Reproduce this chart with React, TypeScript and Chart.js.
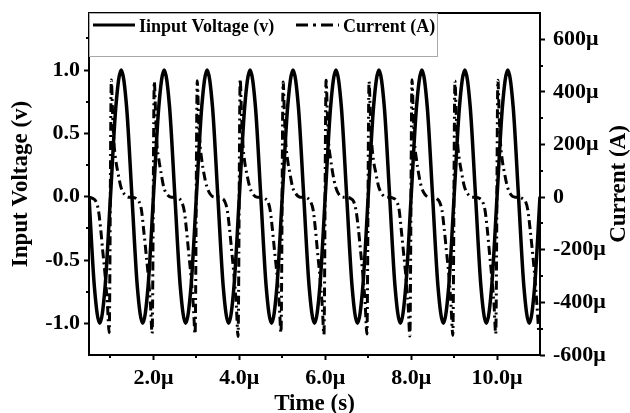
import React, { useEffect, useRef } from 'react';
import { Chart, registerables } from 'chart.js';

Chart.register(...registerables);

// ---------------- data ----------------
// Input voltage (v), sampled every 0.125 µs starting at 0.5 µs
const voltageStartUs = 0.5;
const voltageStepUs = 0.125;
const inputVoltage = [
  0, -0.71, -1, -0.71, 0, 0.71, 1, 0.71,
  0, -0.71, -1, -0.71, 0, 0.71, 1, 0.71,
  0, -0.71, -1, -0.71, 0, 0.71, 1, 0.71,
  0, -0.71, -1, -0.71, 0, 0.71, 1, 0.71,
  0, -0.71, -1, -0.71, 0, 0.71, 1, 0.71,
  0, -0.71, -1, -0.71, 0, 0.71, 1, 0.71,
  0, -0.71, -1, -0.71, 0, 0.71, 1, 0.71,
  0, -0.71, -1, -0.71, 0, 0.71, 1, 0.71,
  0, -0.71, -1, -0.71, 0, 0.71, 1, 0.71,
  0, -0.71, -1, -0.71, 0, 0.71, 1, 0.71,
  0, -0.71, -1, -0.71, 0,
];

// Current (µA): sample positions inside each 1 µs cycle, one row per cycle
const currentPhasesUs = [0.02, 0.05, 0.08, 0.12, 0.18, 0.24, 0.32, 0.42, 0.5, 0.6, 0.66, 0.72, 0.77, 0.82, 0.88, 0.93, 0.97];
const currentCycleStartsUs = [0, 1, 2, 3, 4, 5, 6, 7, 8, 9, 10];
const currentRows: (number | null)[][] = [
  [null, null, null, null, null, null, null, null, 0, -6, -16, -50, -118, -205, -305, -410, -515],
  [445, 315, 210, 145, 88, 40, 12, 0, 0, -5, -15, -48, -120, -200, -300, -405, -518],
  [440, 320, 205, 150, 90, 38, 10, 0, 0, -6, -18, -55, -125, -210, -310, -415, -520],
  [442, 310, 212, 148, 86, 42, 12, 0, 0, -5, -16, -50, -118, -200, -305, -410, -530],
  [448, 318, 208, 140, 84, 40, 11, 0, 0, -6, -15, -52, -122, -205, -300, -408, -515],
  [438, 312, 210, 146, 88, 38, 12, 0, 0, -5, -17, -50, -120, -208, -308, -412, -522],
  [444, 316, 206, 150, 86, 40, 10, 0, 0, -6, -16, -54, -118, -200, -302, -405, -520],
  [440, 320, 212, 144, 90, 42, 12, 0, 0, -5, -15, -48, -124, -206, -305, -410, -528],
  [446, 314, 208, 148, 84, 38, 11, 0, 0, -6, -18, -52, -120, -202, -300, -415, -525],
  [442, 318, 210, 146, 88, 40, 12, 0, 0, -5, -16, -50, -118, -205, -308, -408, -520],
  [444, 312, 206, 142, 86, 40, 10, 0, 0, -6, -15, -52, -122, -200, -305, -412, -515],
];

// ticks
const timeTicks = [2, 4, 6, 8, 10];
const timeMinorTicks = [1, 3, 5, 7, 9];
const voltageTicks = [-1, -0.5, 0, 0.5, 1];
const voltageMinorTicks = [-0.75, -0.25, 0.25, 0.75, 1.25];
const currentTicks = [-600, -400, -200, 0, 200, 400, 600];
const currentMinorTicks = [-500, -300, -100, 100, 300, 500];

const legendLabels = ['Iinput Voltage (v)', 'Current (A)'];
const xTitle = 'Time (s)';
const yLeftTitle = 'Input Voltage (v)';
const yRightTitle = 'Current (A)';

// ---------------- styling ----------------
const FONT_FAMILY = "'Liberation Serif', 'Times New Roman', serif";
const tickFont = { family: FONT_FAMILY, size: 22, weight: 'bold' as const };
const CURRENT_DASH = [9, 4, 2, 4];

const voltagePoints = inputVoltage.map((v, i) => ({ x: voltageStartUs + i * voltageStepUs, y: v }));
const currentPoints: { x: number; y: number }[] = [];
currentRows.forEach((row, c) => {
  row.forEach((v, j) => {
    if (v !== null) currentPoints.push({ x: currentCycleStartsUs[c] + currentPhasesUs[j], y: v });
  });
});

const decorPlugin = {
  id: 'decor',
  afterDraw(chart: any) {
    const ctx = chart.ctx as CanvasRenderingContext2D;
    const { left, right, top, bottom } = chart.chartArea;
    const sx = chart.scales.x;
    const sv = chart.scales.yV;
    const si = chart.scales.yI;
    ctx.save();
    ctx.strokeStyle = '#000';
    ctx.lineWidth = 2;
    ctx.setLineDash([]);
    // frame
    ctx.strokeRect(left, top, right - left, bottom - top);
    // minor ticks
    ctx.beginPath();
    timeMinorTicks.forEach((v) => {
      const x = Math.round(sx.getPixelForValue(v));
      ctx.moveTo(x, bottom);
      ctx.lineTo(x, bottom + 3);
    });
    voltageMinorTicks.forEach((v) => {
      const y = Math.round(sv.getPixelForValue(v));
      ctx.moveTo(left, y);
      ctx.lineTo(left - 3, y);
    });
    currentMinorTicks.forEach((v) => {
      const y = Math.round(si.getPixelForValue(v));
      ctx.moveTo(right, y);
      ctx.lineTo(right + 3, y);
    });
    ctx.stroke();

    // legend box
    ctx.strokeStyle = '#a8a8a8';
    ctx.lineWidth = 1;
    ctx.strokeRect(left + 0.5, top + 0.5, 348, 43);

    ctx.fillStyle = '#000';
    ctx.font = `bold 18px ${FONT_FAMILY}`;
    ctx.textBaseline = 'alphabetic';
    ctx.textAlign = 'left';
    // item 1
    ctx.strokeStyle = '#000';
    ctx.lineWidth = 3;
    ctx.beginPath();
    ctx.moveTo(left + 4, top + 12);
    ctx.lineTo(left + 46, top + 12);
    ctx.stroke();
    ctx.fillText(legendLabels[0], left + 50, top + 19);
    // item 2
    ctx.setLineDash([12, 5, 3, 5]);
    ctx.beginPath();
    ctx.moveTo(left + 207, top + 12);
    ctx.lineTo(left + 250, top + 12);
    ctx.stroke();
    ctx.setLineDash([]);
    ctx.fillText(legendLabels[1], left + 254, top + 19);

    // axis titles
    ctx.font = `bold 23px ${FONT_FAMILY}`;
    ctx.textAlign = 'center';
    ctx.fillText(xTitle, (left + right) / 2, 410);
    const midY = (top + bottom) / 2;
    ctx.save();
    ctx.translate(27, midY);
    ctx.rotate(-Math.PI / 2);
    ctx.fillText(yLeftTitle, 0, 0);
    ctx.restore();
    ctx.save();
    ctx.translate(625, midY);
    ctx.rotate(-Math.PI / 2);
    ctx.fillText(yRightTitle, 0, 0);
    ctx.restore();
    ctx.restore();
  },
};

export default function App() {
  const canvasRef = useRef<HTMLCanvasElement | null>(null);

  useEffect(() => {
    const canvas = canvasRef.current;
    if (!canvas) return;
    const chart = new Chart(canvas, {
      type: 'line',
      data: {
        datasets: [
          {
            label: legendLabels[0],
            data: voltagePoints,
            yAxisID: 'yV',
            borderColor: '#000',
            borderWidth: 3.5,
            pointRadius: 0,
            cubicInterpolationMode: 'monotone',
            fill: false,
          },
          {
            label: legendLabels[1],
            data: currentPoints,
            yAxisID: 'yI',
            borderColor: '#000',
            borderWidth: 3,
            borderDash: CURRENT_DASH,
            pointRadius: 0,
            cubicInterpolationMode: 'monotone',
            fill: false,
          },
        ],
      },
      options: {
        responsive: false,
        animation: false,
        events: [],
        layout: { padding: { top: 13, left: 0, right: 0, bottom: 0 } },
        plugins: { legend: { display: false }, tooltip: { enabled: false }, title: { display: false } },
        scales: {
          x: {
            type: 'linear',
            position: 'bottom',
            min: 0.5,
            max: 11,
            afterBuildTicks: (s: any) => {
              s.ticks = timeTicks.map((v) => ({ value: v }));
            },
            afterFit: (s: any) => {
              s.height = 58;
              s.paddingLeft = 0;
              s.paddingRight = 0;
            },
            ticks: {
              callback: (v: any) => Number(v).toFixed(1) + 'μ',
              font: tickFont,
              color: '#000',
              padding: 5,
              maxRotation: 0,
              autoSkip: false,
            },
            grid: { drawOnChartArea: false, tickLength: 5, tickWidth: 2, tickColor: '#000' },
            border: { display: false },
            title: { display: false },
          },
          yV: {
            type: 'linear',
            position: 'left',
            min: -1.25,
            max: 1.45,
            afterBuildTicks: (s: any) => {
              s.ticks = voltageTicks.map((v) => ({ value: v }));
            },
            afterFit: (s: any) => {
              s.width = 89;
              s.paddingTop = 0;
              s.paddingBottom = 0;
            },
            ticks: {
              callback: (v: any) => Number(v).toFixed(1),
              font: tickFont,
              color: '#000',
              padding: 4,
              autoSkip: false,
            },
            grid: { drawOnChartArea: false, tickLength: 5, tickWidth: 2, tickColor: '#000' },
            border: { display: false },
            title: { display: false },
          },
          yI: {
            type: 'linear',
            position: 'right',
            min: -600,
            max: 700,
            afterBuildTicks: (s: any) => {
              s.ticks = currentTicks.map((v) => ({ value: v }));
            },
            afterFit: (s: any) => {
              s.width = 90;
              s.paddingTop = 0;
              s.paddingBottom = 0;
            },
            ticks: {
              callback: (v: any) => (Number(v) === 0 ? '0' : `${v}μ`),
              font: tickFont,
              color: '#000',
              padding: 8,
              autoSkip: false,
            },
            grid: { drawOnChartArea: false, tickLength: 5, tickWidth: 2, tickColor: '#000' },
            border: { display: false },
            title: { display: false },
          },
        },
      },
      plugins: [decorPlugin],
    } as any);
    return () => chart.destroy();
  }, []);

  return (
    <div style={{ position: 'fixed', left: 0, top: 0, width: 630, height: 413, background: '#fff' }}>
      <canvas ref={canvasRef} width={630} height={413} style={{ display: 'block', width: 630, height: 413 }} />
    </div>
  );
}
